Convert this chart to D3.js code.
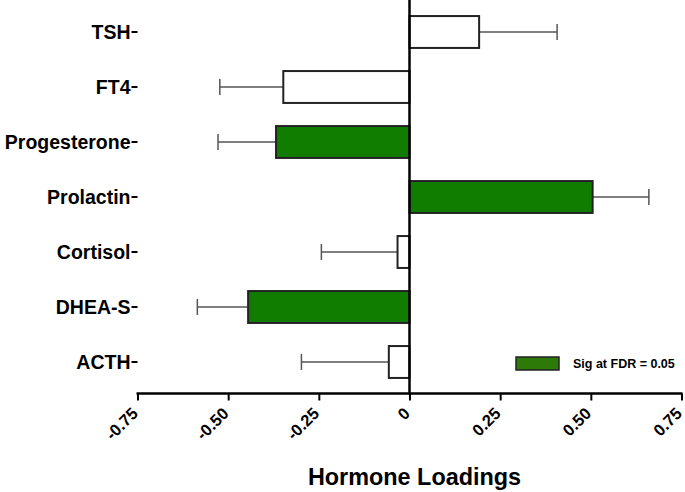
<!DOCTYPE html>
<html><head><meta charset="utf-8">
<script src="https://cdn.jsdelivr.net/npm/d3@7"></script>
<style>body{margin:0;background:#fff}svg{display:block}text{font-family:"Liberation Sans",Arial,sans-serif;font-weight:bold;fill:#000}</style>
</head><body>
<script>
const categories = ["TSH","FT4","Progesterone","Prolactin","Cortisol","DHEA-S","ACTH"];
const loadings   = [0.192,-0.348,-0.368,0.505,-0.033,-0.445,-0.057];
const errors     = [0.215,0.175,0.160,0.155,0.210,0.140,0.241];
const significant= [false,false,true,true,false,true,false];
const xTicks     = [-0.75,-0.5,-0.25,0,0.25,0.5,0.75];
const xTickLabels= ["-0.75","-0.50","-0.25","0","0.25","0.50","0.75"];
const legendLabel= "Sig at FDR = 0.05";
const axisTitle  = "Hormone Loadings";

const W=685,H=492;
const svg=d3.select("body").append("svg").attr("width",W).attr("height",H);
const x=d3.scaleLinear().domain([-0.75,0.75]).range([137.5,681.5]);
const y=d3.scaleBand().domain(categories).range([4.5,389.5]).paddingInner(0.42).paddingOuter(0.21);
const axisY=393.5;

// error bars
const eb=svg.append("g").attr("stroke","#555").attr("stroke-width",1.5);
categories.forEach((c,i)=>{
  const v=loadings[i], e=errors[i]*Math.sign(v);
  const cy=y(c)+y.bandwidth()/2;
  eb.append("line").attr("x1",x(v)).attr("x2",x(v+e)).attr("y1",cy).attr("y2",cy);
  eb.append("line").attr("x1",x(v+e)).attr("x2",x(v+e)).attr("y1",cy-8).attr("y2",cy+8);
});
// bars
svg.append("g").selectAll("rect").data(categories).join("rect")
  .attr("x",(d,i)=>x(Math.min(0,loadings[i])))
  .attr("width",(d,i)=>Math.abs(x(loadings[i])-x(0)))
  .attr("y",d=>y(d)).attr("height",y.bandwidth())
  .attr("fill",(d,i)=>significant[i]?"#107c00":"#fff")
  .attr("stroke","#222").attr("stroke-width",2);

// y axis at zero
const ya=svg.append("g").attr("stroke","#000");
ya.append("line").attr("x1",x(0)).attr("x2",x(0)).attr("y1",0).attr("y2",axisY+1).attr("stroke-width",2.5);
// y category ticks on left at x(-0.75)
const yAxisG=svg.append("g").attr("transform",`translate(${x(-0.75)},0)`)
  .call(d3.axisLeft(y).tickSize(6).tickSizeOuter(0));
yAxisG.select(".domain").remove();
yAxisG.selectAll(".tick line").attr("stroke","#000").attr("stroke-width",2);
yAxisG.selectAll(".tick text").attr("font-size",19.5).attr("font-weight","bold")
  .attr("font-family","'Liberation Sans',Arial,sans-serif").attr("x",-7).attr("dy","0.35em").attr("fill","#000");

// x axis
const xAxisG=svg.append("g").attr("transform",`translate(0,${axisY})`)
  .call(d3.axisBottom(x).tickValues(xTicks).tickFormat((d,i)=>xTickLabels[i]).tickSize(7).tickSizeOuter(0));
xAxisG.select(".domain").attr("stroke","#000").attr("stroke-width",2.5).attr("d",`M${x(-0.75)-1},0H${x(0.75)+1}`);
xAxisG.selectAll(".tick line").attr("stroke","#000").attr("stroke-width",2);
xAxisG.selectAll(".tick text").attr("font-size",16.5).attr("font-weight","bold")
  .attr("font-family","'Liberation Sans',Arial,sans-serif").attr("fill","#000")
  .attr("text-anchor","end").attr("y",0).attr("dy",0)
  .attr("transform","translate(1,21) rotate(-45)");

// title
svg.append("text").attr("x",x(0)+5).attr("y",485).attr("text-anchor","middle")
  .attr("font-size",23.4).text(axisTitle);

// legend
svg.append("rect").attr("x",516).attr("y",357).attr("width",43).attr("height",13)
  .attr("fill","#2e7a08").attr("stroke","#222").attr("stroke-width",1.5);
svg.append("text").attr("x",573).attr("y",367.5).attr("font-size",12.5).text(legendLabel);
</script>
</body></html>
